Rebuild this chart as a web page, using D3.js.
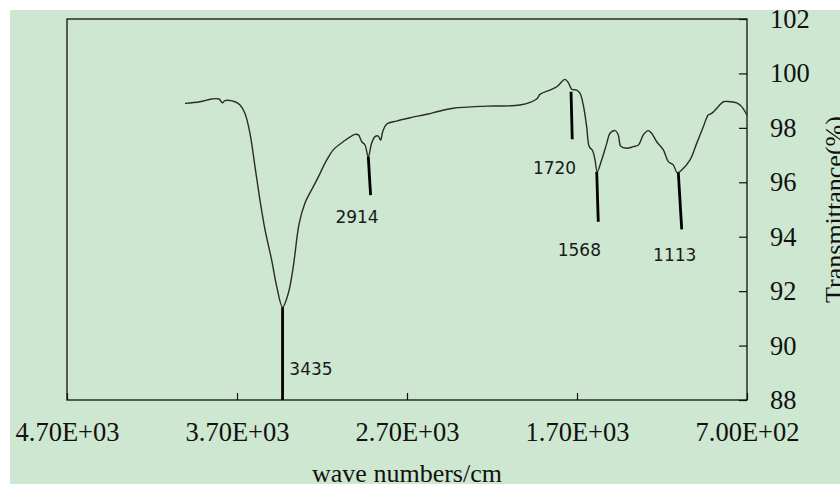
<!DOCTYPE html>
<html>
<head>
<meta charset="utf-8">
<script src="https://cdn.jsdelivr.net/npm/d3@7"></script>
<style>
    body { margin: 0; background: #ffffff; }
    svg { display: block; }
</style>
</head>
<body>
<div id="chart"></div>
<script>
// Spectrum (wavenumber, cm-1) and transmittance (%)
var waveNumbers = [4006, 3918, 3849, 3806, 3786, 3771, 3712, 3682, 3653, 3624,
    3594, 3565, 3535, 3496, 3466, 3432, 3398, 3369, 3334,
    3300, 3271, 3231, 3172, 3134, 3075, 3006, 2986, 2966, 2947,
    2928, 2908, 2888, 2869, 2855, 2843, 2819, 2761, 2682, 2575,
    2525, 2428, 2231, 2035, 1937, 1918, 1859, 1819, 1771, 1751,
    1731, 1702, 1682, 1663, 1643, 1628, 1608, 1594, 1581, 1555,
    1525, 1506, 1476, 1457, 1443, 1408, 1369, 1339, 1310, 1281,
    1261, 1231, 1192, 1163, 1134, 1110, 1084, 1035, 996, 957,
    928, 908, 869, 839, 800, 761, 731, 700];
var transmittance = [98.90, 98.96, 99.06, 99.06, 98.92, 99.00, 98.96, 98.84, 98.53, 97.81,
    96.57, 95.35, 94.25, 93.14, 92.16, 91.41, 91.92, 92.90, 94.50,
    95.24, 95.61, 96.08, 96.82, 97.19, 97.49, 97.76, 97.74, 97.49, 97.37,
    96.94, 97.43, 97.68, 97.70, 97.55, 97.86, 98.14, 98.25, 98.37, 98.51,
    98.59, 98.72, 98.80, 98.84, 99.06, 99.23, 99.39, 99.51, 99.78, 99.66,
    99.42, 99.39, 99.27, 98.84, 98.04, 97.31, 97.16, 96.82, 96.39, 96.82,
    97.43, 97.80, 97.90, 97.74, 97.33, 97.25, 97.31, 97.37, 97.74, 97.90,
    97.80, 97.49, 97.19, 96.76, 96.64, 96.35, 96.45, 96.82, 97.43, 98.04,
    98.47, 98.53, 98.78, 98.96, 98.96, 98.92, 98.78, 98.47];

// Peak markers
var peakNames = ["3435", "2914", "1720", "1568", "1113"];
var markerTopWn = [3432, 2928, 1735, 1584, 1104];
var markerTopT = [91.41, 96.94, 99.33, 96.39, 96.35];
var markerEndWn = [3432, 2914, 1728, 1575, 1084];
var markerEndT = [88, 95.53, 97.58, 94.55, 94.27];
var labelWn = [3265, 2994, 1832, 1686, 1125];
var labelT = [88.92, 94.52, 96.29, 93.29, 93.11];

// Axis ticks
var xTicks = [4700, 3700, 2700, 1700, 700];
var xTickLabels = ["4.70E+03", "3.70E+03", "2.70E+03", "1.70E+03", "7.00E+02"];
var yTicks = [88, 90, 92, 94, 96, 98, 100, 102];

// SVG
var svgWidth = 840;
var svgHeight = 484;

var margin = {
    top: 19,
    right: 93,
    bottom: 84,
    left: 67
};

var width = svgWidth - margin.left - margin.right;
var height = svgHeight - margin.top - margin.bottom;

var svg = d3
    .select("#chart")
    .append("svg")
    .attr("width", svgWidth)
    .attr("height", svgHeight);

// green panel
svg.append("rect")
    .attr("x", 10)
    .attr("y", 10)
    .attr("width", svgWidth - 10)
    .attr("height", svgHeight - 10)
    .attr("fill", "#cde7d0");

var svgGroup = svg.append("g")
    .attr("transform", `translate(${margin.left}, ${margin.top})`);

var xScale = d3.scaleLinear()
    .domain([4700, 700])
    .range([0, width]);

var yScale = d3.scaleLinear()
    .domain([88, 102])
    .range([height, 0]);

// X-Axis
var bottomAxis = d3.axisBottom(xScale)
    .tickValues(xTicks)
    .tickFormat((d, i) => xTickLabels[i])
    .tickSizeInner(-7)
    .tickSizeOuter(0)
    .tickPadding(23);

var axisX = svgGroup.append("g")
    .attr("transform", `translate(0, ${height})`)
    .call(bottomAxis);

// Y-Axis (right side)
var rightAxis = d3.axisRight(yScale)
    .tickValues(yTicks)
    .tickSizeInner(-8)
    .tickSizeOuter(0)
    .tickPadding(23);

var axisY = svgGroup.append("g")
    .attr("transform", `translate(${width}, 0)`)
    .call(rightAxis);

[axisX, axisY].forEach(a => {
    a.select(".domain").remove();
    a.selectAll("line").attr("stroke", "#111").attr("stroke-width", 1.2);
    a.selectAll("text")
        .attr("fill", "#111")
        .style("font-family", "'Liberation Serif', 'Times New Roman', serif")
        .style("font-size", "26.5px");
});
axisX.selectAll("text").attr("dy", "0.68em");

// frame
svgGroup.append("rect")
    .attr("x", 0)
    .attr("y", 0)
    .attr("width", width)
    .attr("height", height)
    .attr("fill", "none")
    .attr("stroke", "#111")
    .attr("stroke-width", 1.3);

// Spectrum line
var points = waveNumbers.map((w, i) => [w, transmittance[i]]);

var line = d3.line()
    .x(d => xScale(d[0]))
    .y(d => yScale(d[1]))
    .curve(d3.curveCatmullRom.alpha(0.5));

svgGroup.append("path")
    .datum(points)
    .attr("d", line)
    .attr("fill", "none")
    .attr("stroke", "#2b2b2b")
    .attr("stroke-width", 1.4);

// Peak markers
svgGroup.selectAll(".marker")
    .data(peakNames)
    .enter()
    .append("line")
    .attr("class", "marker")
    .attr("x1", (d, i) => xScale(markerTopWn[i]))
    .attr("y1", (d, i) => yScale(markerTopT[i]))
    .attr("x2", (d, i) => xScale(markerEndWn[i]))
    .attr("y2", (d, i) => yScale(markerEndT[i]))
    .attr("stroke", "#000")
    .attr("stroke-width", 2.8);

svgGroup.selectAll(".peakText")
    .data(peakNames)
    .enter()
    .append("text")
    .attr("class", "peakText")
    .attr("x", (d, i) => xScale(labelWn[i]))
    .attr("y", (d, i) => yScale(labelT[i]))
    .attr("text-anchor", "middle")
    .attr("fill", "#1a1a1a")
    .style("font-family", "'DejaVu Sans', sans-serif")
    .style("font-size", "17px")
    .text(d => d);

// Axis titles
svg.append("text")
    .attr("x", margin.left + width / 2)
    .attr("y", 482)
    .attr("text-anchor", "middle")
    .attr("fill", "#111")
    .style("font-family", "'Liberation Serif', 'Times New Roman', serif")
    .style("font-size", "26px")
    .text("wave numbers/cm");

svg.append("text")
    .attr("transform", `translate(843, ${margin.top + height / 2}) rotate(-90)`)
    .attr("text-anchor", "middle")
    .attr("fill", "#111")
    .style("font-family", "'Liberation Serif', 'Times New Roman', serif")
    .style("font-size", "26px")
    .text("Transmittance(%)");
</script>
</body>
</html>
